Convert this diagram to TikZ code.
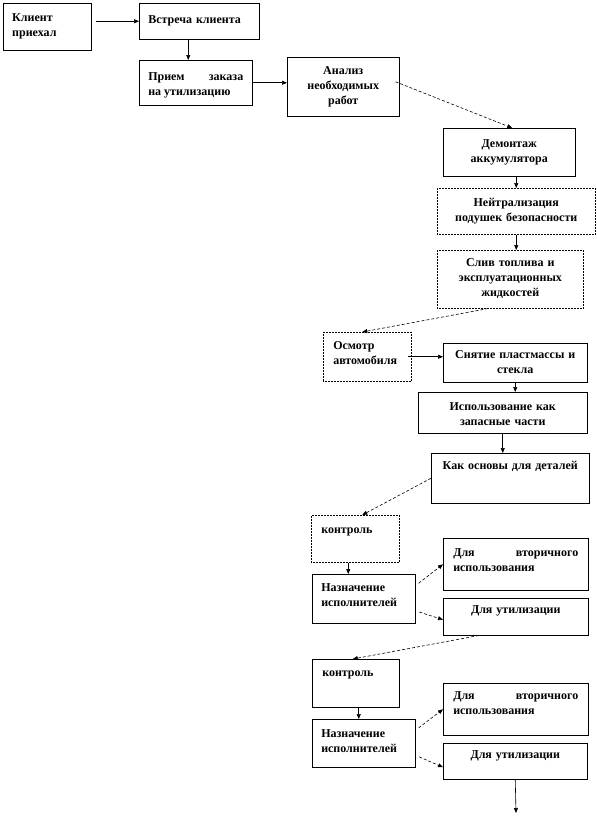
\documentclass[tikz,border=0pt]{standalone}
\usepackage{fontspec}
\setmainfont{Liberation Serif}
\usetikzlibrary{arrows.meta,positioning,calc}
\hyphenpenalty=10000
\tikzset{
  box/.style={draw,line width=0.5pt,anchor=north west,inner ysep=0pt,inner xsep=9pt,
    font=\bfseries\fontsize{12}{15}\selectfont},
  dbox/.style={box,densely dotted},
  arr/.style={-{Triangle[length=5pt,width=4pt]},line width=0.6pt},
  darr/.style={arr,densely dashed},
}

\begin{document}
\begin{tikzpicture}[x=1pt,y=-1pt]
        \useasboundingbox (0,0) rectangle (597,817);
        % first row
        \node[box,text width=70pt,text height=18pt,text depth=29pt,align=left] (klient) at (3,3) {Клиент\\приехал};
        \node[box,text width=102pt,text height=20pt,text depth=16pt,align=left] (vstrecha) at (139,3) {Встреча клиента};
        \node[box,text width=95pt,text height=20pt,text depth=25pt,align=justify] (priem) at (139,60) {Прием заказа\linebreak на утилизацию};
        \node[box,text width=94pt,text height=17pt,text depth=42pt,align=center] (analiz) at (287,57) {Анализ\\необходимых\\работ};
        % right column
        \node[box,text width=114pt,text height=19pt,text depth=29pt,align=center] (demontazh) at (443,128) {Демонтаж\\аккумулятора};
        \node[dbox,text width=140pt,text height=18pt,text depth=28pt,align=center] (neitr) at (437,188) {Нейтрализация\\подушек безопасности};
        \node[dbox,text width=128pt,text height=16pt,text depth=42pt,align=center] (sliv) at (437,250) {Слив топлива и\\эксплуатационных\\жидкостей};
        \node[dbox,inner xsep=10pt,text width=68pt,text height=17pt,text depth=32pt,align=left] (osmotr) at (323,332) {Осмотр\\автомобиля};
        \node[box,text width=126pt,text height=15pt,text depth=24pt,align=center] (snyatie) at (443,343) {Снятие пластмассы и\\стекла};
        \node[box,text width=151pt,text height=18pt,text depth=23pt,align=center] (ispolz) at (418,392) {Использование как\\запасные части};
        \node[box,text width=140pt,text height=16pt,text depth=34pt,align=center] (osnovy) at (431,453) {Как основы для деталей};
        % first control group
        \node[dbox,inner xsep=10pt,text width=68pt,text height=18pt,text depth=29pt,align=left] (kontrol1) at (311,515) {контроль};
        \node[box,text width=85pt,text height=17pt,text depth=32pt,align=left] (nazn1) at (312,574) {Назначение\\исполнителей};
        \node[box,inner xsep=10pt,text width=125pt,text height=18pt,text depth=34pt,align=justify] (vtor1) at (443,538) {Для вторичного\linebreak использования};
        \node[box,text width=127pt,text height=15pt,text depth=22pt,align=center] (util1) at (443,598) {Для утилизации};
        % second control group
        \node[box,inner xsep=10pt,text width=67pt,text height=17pt,text depth=31pt,align=left] (kontrol2) at (312,659) {контроль};
        \node[box,text width=85pt,text height=18pt,text depth=30pt,align=left] (nazn2) at (312,719) {Назначение\\исполнителей};
        \node[box,inner xsep=10pt,text width=125pt,text height=16pt,text depth=36pt,align=justify] (vtor2) at (443,683) {Для вторичного\linebreak использования};
        \node[box,text width=126pt,text height=15pt,text depth=21pt,align=center] (util2) at (443,743) {Для утилизации};
        \coordinate (konec) at (516,813);
        % connectors
        \draw[arr,shorten <=4pt] (klient.east |- vstrecha.west) -- (vstrecha.west);
        \draw[arr] ([xshift=-11pt]vstrecha.south) -- ([xshift=-11pt]vstrecha.south |- priem.north);
        \draw[arr] (priem.east) -- (priem.east -| analiz.west);
        \draw[darr] ([xshift=-4pt,yshift=5pt]analiz.east) -- ([xshift=3pt]demontazh.north);
        \draw[arr] (neitr.north |- demontazh.south) -- (neitr.north);
        \draw[arr] (neitr.south) -- (neitr.south |- sliv.north);
        \draw[darr] ([xshift=-22pt]sliv.south) -- ([xshift=-5pt]osmotr.north);
        \draw[arr,shorten <=-4pt] (osmotr.east) -- (osmotr.east -| snyatie.west);
        \draw[arr] (snyatie.south) -- (snyatie.south |- ispolz.north);
        \draw[arr] (ispolz.south) -- (ispolz.south |- osnovy.north);
        \draw[darr] (osnovy.west) -- ([xshift=7pt]kontrol1.north);
        \draw[arr] ([xshift=-7pt]kontrol1.south) -- ([xshift=-7pt]kontrol1.south |- nazn1.north);
        \draw[darr,shorten <=4pt] ([yshift=13pt]nazn1.east) -- (vtor1.west);
        \draw[darr,shorten <=4pt] ([yshift=-12pt]nazn1.east) -- ([yshift=-3pt]util1.west);
        \draw[darr] ([xshift=-37pt]util1.south) -- ([xshift=-3pt]kontrol2.north);
        \draw[arr] ([xshift=3pt]kontrol2.south) -- ([xshift=3pt]kontrol2.south |- nazn2.north);
        \draw[darr,shorten <=4pt] ([yshift=13pt]nazn2.east) -- (vtor2.west);
        \draw[darr,shorten <=4pt] ([yshift=-12pt]nazn2.east) -- ([yshift=-6pt]util2.west);
        \draw[arr] (util2.south) -- (konec);
      \end{tikzpicture}
\end{document}
